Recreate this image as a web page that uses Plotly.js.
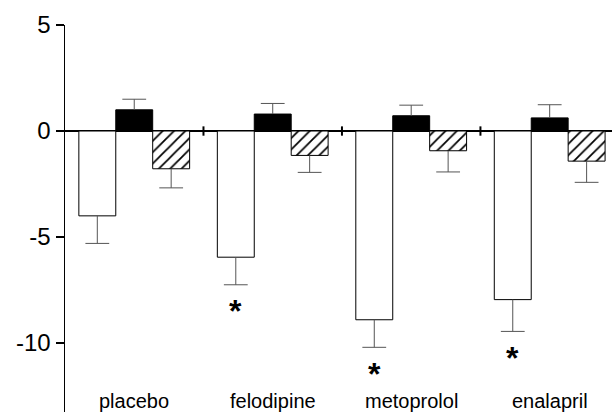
<!DOCTYPE html>
<html>
<head>
<meta charset="utf-8">
<script src="https://cdn.plot.ly/plotly-3.0.1.min.js"></script>
<style>
  html, body { margin: 0; padding: 0; background: #fff; }
  #chart { width: 612px; height: 415px; }
</style>
</head>
<body>
<div id="chart"></div>
<script>
// ---- data ----
var categories   = ['placebo', 'felodipine', 'metoprolol', 'enalapril'];
var whiteValues  = [-4.0, -5.95, -8.9, -7.95];
var whiteErrors  = [1.3, 1.3, 1.3, 1.5];
var blackValues  = [1.0, 0.8, 0.72, 0.62];
var blackErrors  = [0.5, 0.5, 0.5, 0.62];
var hatchValues  = [-1.78, -1.15, -0.93, -1.42];
var hatchErrors  = [0.9, 0.8, 1.0, 1.0];
var significant  = [false, true, true, true];
var yTickValues  = [5, 0, -5, -10];
var yTickLabels  = ['5', '0', '-5', '-10'];

// ---- styling ----
var barFrac = 0.8;
var nSeries = 3;
var w = barFrac / nSeries;
var errColor = '#555555';
var fontFam = '"Liberation Sans", Arial, Helvetica, sans-serif';

function xs(seriesIndex) {
  return categories.map(function (c, i) { return i + (seriesIndex - 1) * w; });
}

var series = [
  { values: whiteValues, errors: whiteErrors, marker: { color: '#ffffff', line: { color: '#000', width: 1 } } },
  { values: blackValues, errors: blackErrors, marker: { color: '#000000', line: { color: '#000', width: 1 } } },
  { values: hatchValues, errors: hatchErrors, marker: { color: '#ffffff', line: { color: '#000', width: 1 },
      pattern: { shape: '/', fgcolor: '#000', bgcolor: '#fff', size: 8, solidity: 0.22 } } }
];

var traces = [];
series.forEach(function (s, si) {
  var x = xs(si);
  traces.push({
    type: 'bar', x: x, y: s.values, width: w,
    marker: s.marker,
    error_y: {
      type: 'data', symmetric: false,
      array: s.values.map(function (v, i) { return v > 0 ? s.errors[i] : 0; }),
      arrayminus: s.values.map(function (v, i) { return v < 0 ? s.errors[i] : 0; }),
      width: 0, thickness: 1, color: errColor
    },
    hoverinfo: 'skip', showlegend: false
  });
  traces.push({
    type: 'scatter', mode: 'markers', x: x,
    y: s.values.map(function (v, i) { return v > 0 ? v + s.errors[i] : v - s.errors[i]; }),
    marker: { symbol: 'line-ew', size: 17, color: errColor, line: { color: errColor, width: 1 } },
    cliponaxis: false, hoverinfo: 'skip', showlegend: false
  });
});

var annotations = [];
categories.forEach(function (c, i) {
  annotations.push({
    x: i, y: -12.75, xref: 'x', yref: 'y', text: c, showarrow: false,
    xanchor: 'center', yanchor: 'middle',
    font: { family: fontFam, size: 20, color: '#000' }
  });
  if (significant[i]) {
    annotations.push({
      x: xs(0)[i], y: whiteValues[i] - whiteErrors[i] - 1.0, xref: 'x', yref: 'y',
      text: '<b>*</b>', showarrow: false, xanchor: 'center', yanchor: 'middle', yshift: -5,
      font: { family: fontFam, size: 32, color: '#000' }
    });
  }
});

var shapes = [];
for (var i = 0; i < categories.length - 1; i++) {
  shapes.push({
    type: 'line', xref: 'x', yref: 'y', x0: i + 0.5, x1: i + 0.5, y0: -0.22, y1: 0.22,
    line: { color: '#000', width: 2 }
  });
}

var layout = {
  width: 612, height: 415,
  margin: { l: 65, r: 0, t: 25, b: 3, pad: 0 },
  paper_bgcolor: '#fff', plot_bgcolor: '#fff',
  barmode: 'overlay',
  showlegend: false,
  xaxis: {
    range: [-0.5, 3.45], visible: true, showline: false, showgrid: false,
    zeroline: false, showticklabels: false, ticks: '', fixedrange: true
  },
  yaxis: {
    range: [-13.25, 5], showline: true, linecolor: '#000', linewidth: 1.5,
    ticks: 'outside', ticklen: 8, tickwidth: 1.5, tickcolor: '#000',
    tickvals: yTickValues, ticktext: yTickLabels,
    tickfont: { family: fontFam, size: 24, color: '#000' },
    showgrid: false, zeroline: true, zerolinecolor: '#000', zerolinewidth: 2,
    fixedrange: true
  },
  annotations: annotations,
  shapes: shapes
};

Plotly.newPlot('chart', traces, layout, { displayModeBar: false, staticPlot: true });
</script>
</body>
</html>
